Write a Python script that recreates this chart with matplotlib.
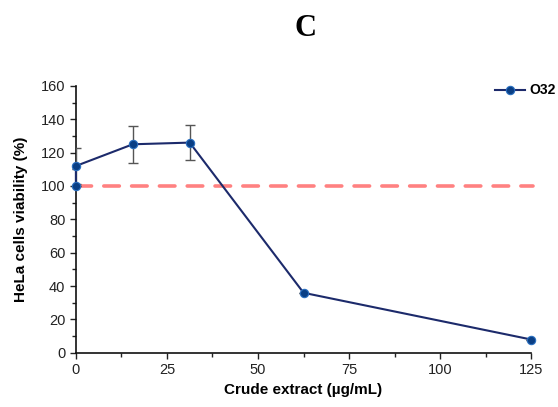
import matplotlib
matplotlib.use("Agg")
import matplotlib.pyplot as plt
from matplotlib.ticker import MultipleLocator

plt.rcParams['font.family'] = ['Liberation Sans', 'DejaVu Sans']

conc = [0, 0, 15.625, 31.25, 62.5, 125]
viability = [100, 112, 125, 126, 36, 8]
errors = [0, 11, 11, 10.5, 0, 0]
control_level = 100
series_name = "O32"
x_ticks = [0, 25, 50, 75, 100, 125]
y_ticks = [0, 20, 40, 60, 80, 100, 120, 140, 160]

fig = plt.figure(figsize=(5.58, 4.07), dpi=100)
ax = fig.add_axes([0.136, 0.133, 0.816, 0.656])

line_color = '#1c2a6b'
marker_color = '#0a3f85'

ax.plot([0, 125.4], [control_level, control_level], color='#ff7373', lw=2.6,
        dashes=(4.3, 3.4), dash_capstyle='round', clip_on=False, zorder=2,
        alpha=0.9)
ax.errorbar(conc, viability, yerr=errors, fmt='none', ecolor='#555555',
            elinewidth=1.0, capsize=3.5, capthick=1.0, zorder=3)
ax.plot(conc, viability, color=line_color, lw=1.5, marker='o', ms=6,
        markerfacecolor=marker_color, markeredgecolor='#2a6fc0',
        markeredgewidth=0.8, zorder=4, label=series_name, clip_on=False)

ax.set_xlim(0, 125)
ax.set_ylim(0, 160)
ax.set_xticks(x_ticks)
ax.set_yticks(y_ticks)
ax.xaxis.set_minor_locator(MultipleLocator(12.5))
ax.yaxis.set_minor_locator(MultipleLocator(10))
ax.tick_params(which='major', direction='out', length=4, width=1, labelsize=10.5,
               colors='#222222')
ax.tick_params(which='minor', direction='out', length=3, width=1, colors='#222222')
for s in ['top', 'right']:
    ax.spines[s].set_visible(False)
for s in ['left', 'bottom']:
    ax.spines[s].set_linewidth(1.2)
    ax.spines[s].set_color('#111111')

ax.set_xlabel('Crude extract (µg/mL)', fontsize=11, fontweight='bold', labelpad=4)
ax.set_ylabel('HeLa cells viability (%)', fontsize=11, fontweight='bold', labelpad=9)

leg = ax.legend(loc='upper left', bbox_to_anchor=(0.908, 1.03), frameon=False,
                handlelength=2.2, handletextpad=0.3, borderaxespad=0,
                prop={'weight': 'bold', 'size': 10})

fig.text(0.547, 0.931, 'C', ha='center', va='center', fontsize=22,
         fontweight='bold', family=['Liberation Serif', 'DejaVu Serif'])

fig.savefig('out.png', dpi=100)
